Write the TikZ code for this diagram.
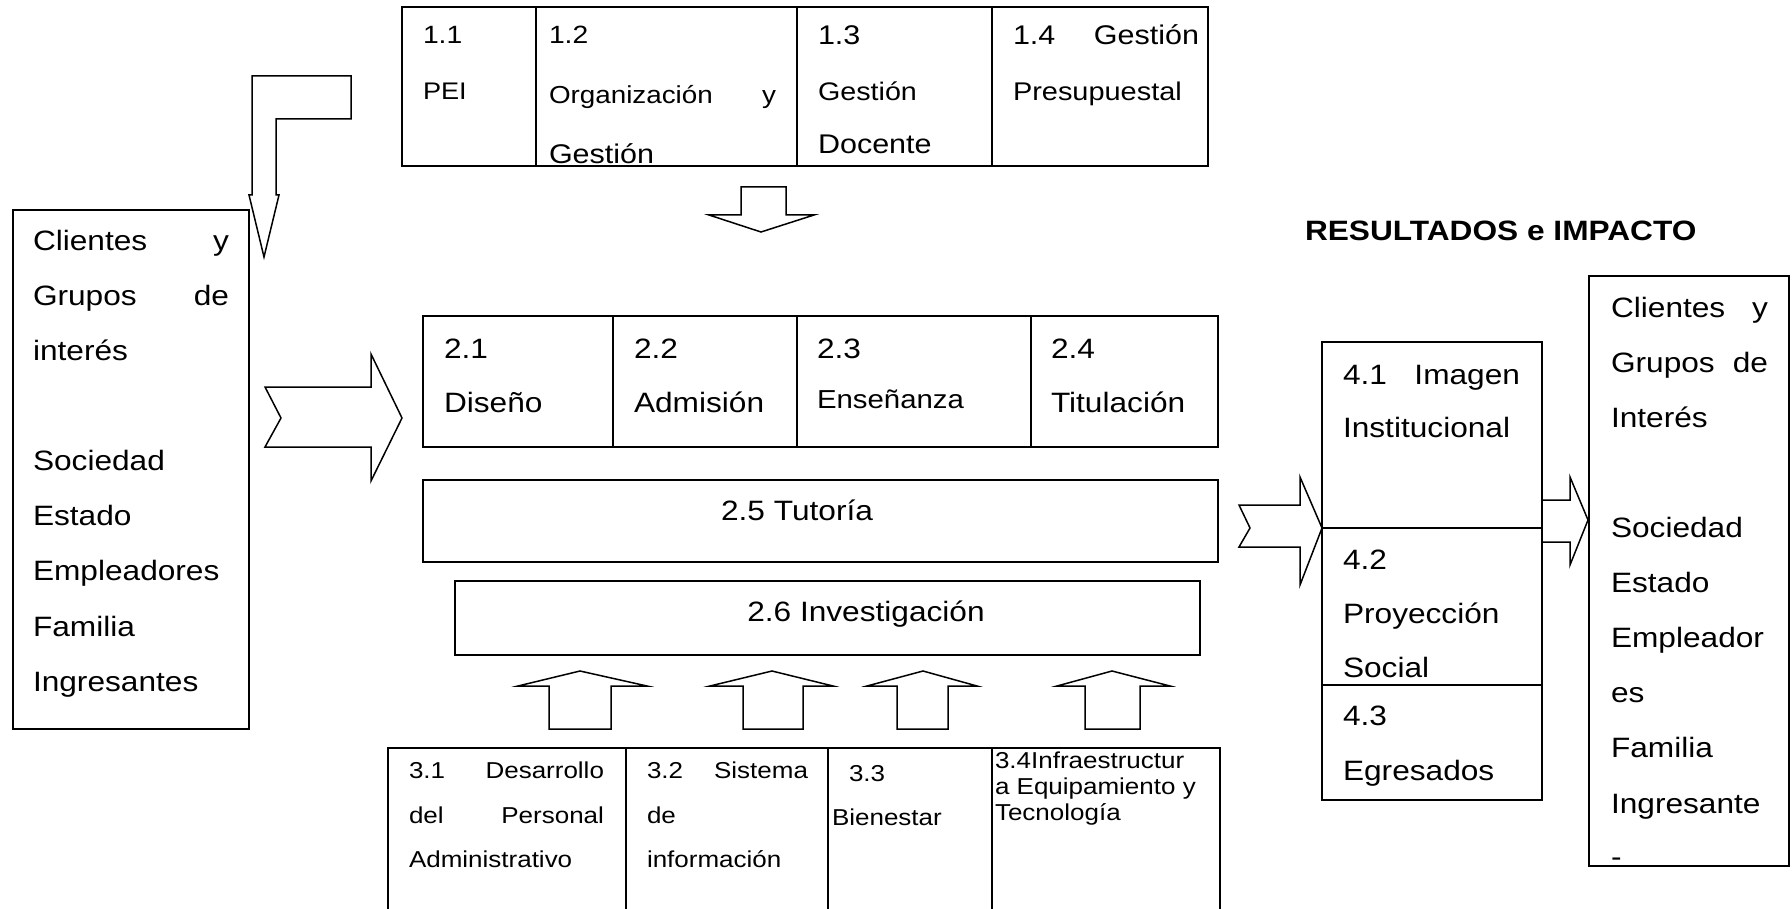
\documentclass[tikz,border=0pt]{standalone}
\usepackage{fontspec}
\setmainfont{Liberation Sans}[FakeStretch=1.13]
\newcommand\fsz[1]{\fontsize{#1}{#1}\selectfont}
\tikzset{
  boxline/.style={draw=black,line width=1pt},
  arrline/.style={draw=black,line width=0.75pt,line join=miter},
  t/.style={inner sep=0pt,outer sep=0pt,anchor=base west,font=\fsz{14}},
  tc/.style={t,anchor=base},
}
\begin{document}
\begin{tikzpicture}[x=0.5pt,y=-0.5pt]
\useasboundingbox[fill=white] (0,0) rectangle (1792,909);

% ---------- top box 1.x ----------
\draw[boxline] (402,7) rectangle (1208,166);
\draw[boxline] (536,7) -- (536,166) (797,7) -- (797,166) (992,7) -- (992,166);
\begin{scope}
\clip (402,7) rectangle (1208,166);
\node[t,font=\fsz{12.5}] (t11a) at (423,44) {1.1};
\node[t,font=\fsz{12}] (t11b) at (423,100) {PEI};
\node[t,font=\fsz{12.5}] (t12a) at (549,44) {1.2};
\node[t,font=\fsz{12.3}] (t12b) at (549,104) {\makebox[113.5pt][s]{Organización y}};
\node[t,font=\fsz{13.5}] (t12c) at (549,164) {Gestión};
\node[t,font=\fsz{13.5}] (t13a) at (818,45) {1.3};
\node[t,font=\fsz{12.7}] (t13b) at (818,101) {Gestión};
\node[t,font=\fsz{13.5}] (t13c) at (818,154) {Docente};
\node[t,font=\fsz{13.5}] (t14a) at (1013,45) {\makebox[93pt][s]{1.4 Gestión}};
\node[t,font=\fsz{12.8}] (t14b) at (1013,101) {Presupuestal};
\end{scope}

% bent arrow (top left)
\draw[arrline] (252,76) -- (351,76) -- (351,119) -- (276,119) -- (276,195)
  -- (279,195) -- (264,257) -- (249,195) -- (252,195) -- cycle;

% down arrow under top box
\draw[arrline] (741,187) -- (786,187) -- (786,215) -- (814,215) -- (761,232)
  -- (709,215) -- (741,215) -- cycle;

% ---------- left box ----------
\draw[boxline] (13,210) rectangle (249,729);
\node[t] (la) at (33,250) {\makebox[98pt][s]{Clientes y}};
\node[t] (lb) at (33,305) {\makebox[98pt][s]{Grupos de}};
\node[t] (lc) at (33,360) {interés};
\node[t] (ld) at (33,470) {Sociedad};
\node[t] (le) at (33,525) {Estado};
\node[t] (lf) at (33,580) {Empleadores};
\node[t] (lg) at (33,636) {Familia};
\node[t] (lh) at (33,691) {Ingresantes};

% chevron arrow left -> processes
\draw[arrline] (265,387) -- (371,387) -- (371,354) -- (402,418) -- (371,481)
  -- (371,447) -- (265,447) -- (281,418) -- cycle;

% ---------- 2.x boxes ----------
\draw[boxline] (423,316) rectangle (1218,447);
\draw[boxline] (613,316) -- (613,447) (797,316) -- (797,447) (1031,316) -- (1031,447);
\node[t] (t21a) at (444,358) {2.1};
\node[t] (t21b) at (444,412) {Diseño};
\node[t] (t22a) at (634,358) {2.2};
\node[t] (t22b) at (634,412) {Admisión};
\node[t] (t23a) at (817,358) {2.3};
\node[t,font=\fsz{13}] (t23b) at (817,408) {Enseñanza};
\node[t] (t24a) at (1051,358) {2.4};
\node[t] (t24b) at (1051,412) {Titulación};

\draw[boxline] (423,480) rectangle (1218,562);
\node[tc] (t25) at (797,520) {2.5 Tutoría};

\draw[boxline] (455,581) rectangle (1200,655);
\node[tc] (t26) at (866,621) {2.6 Investigación};

% up arrows
\draw[arrline] (549,729) -- (549,686) -- (518,686) -- (580,671) -- (647,686) -- (611,686) -- (611,729) -- cycle;
\draw[arrline] (743,729) -- (743,686) -- (710,686) -- (772,671) -- (833,686) -- (803,686) -- (803,729) -- cycle;
\draw[arrline] (897,729) -- (897,686) -- (867,686) -- (923,671) -- (977,686) -- (948,686) -- (948,729) -- cycle;
\draw[arrline] (1085,729) -- (1085,686) -- (1057,686) -- (1112,671) -- (1170,686) -- (1140,686) -- (1140,729) -- cycle;

% ---------- 3.x boxes ----------
\draw[boxline] (388,748) rectangle (1220,915);
\draw[boxline] (626,748) -- (626,915) (828,748) -- (828,915) (992,748) -- (992,915);
\node[t,font=\fsz{11.5}] (t31a) at (409,778) {\makebox[97.5pt][s]{3.1 Desarrollo}};
\node[t,font=\fsz{11.5}] (t31b) at (409,823) {\makebox[97.5pt][s]{del Personal}};
\node[t,font=\fsz{11.5}] (t31c) at (409,867) {Administrativo};
\node[t,font=\fsz{11.5}] (t32a) at (647,778) {\makebox[80.5pt][s]{3.2 Sistema}};
\node[t,font=\fsz{11.5}] (t32b) at (647,823) {de};
\node[t,font=\fsz{11.5}] (t32c) at (647,867) {información};
\node[t,font=\fsz{11.5}] (t33a) at (849,781) {3.3};
\node[t,font=\fsz{11.5}] (t33b) at (832,825) {Bienestar};
\node[t,font=\fsz{11.5}] (t34a) at (995,768) {3.4Infraestructur};
\node[t,font=\fsz{11.5}] (t34b) at (995,794) {a Equipamiento y};
\node[t,font=\fsz{11.5}] (t34c) at (995,820) {Tecnología};

% ---------- results ----------
\node[t,font=\fsz{14}\bfseries] (res) at (1305,241) {RESULTADOS e IMPACTO};

% chevron arrow -> 4.x
\draw[arrline] (1239,505) -- (1300,505) -- (1300,477) -- (1322,528) -- (1300,585)
  -- (1300,547) -- (1239,547) -- (1250,528) -- cycle;

% 4.x box
\draw[boxline] (1322,342) rectangle (1542,800);
\draw[boxline] (1322,528) -- (1542,528) (1322,685) -- (1542,685);
\node[t] (t41a) at (1343,384) {\makebox[88.5pt][s]{4.1 Imagen}};
\node[t] (t41b) at (1343,437) {Institucional};
\node[t] (t42a) at (1343,569) {4.2};
\node[t] (t42b) at (1343,623) {Proyección};
\node[t] (t42c) at (1343,677) {Social};
\node[t] (t43a) at (1343,725) {4.3};
\node[t] (t43b) at (1343,780) {Egresados};

% arrow 4.x -> right box
\draw[arrline] (1542,500) -- (1570,500) -- (1570,477) -- (1588,520) -- (1570,565)
  -- (1570,542) -- (1542,542);

% right box
\draw[boxline] (1589,276) rectangle (1789,866);
\begin{scope}
\clip (1589,276) rectangle (1789,866);
\node[t] (ra) at (1611,317) {\makebox[78.5pt][s]{Clientes y}};
\node[t] (rb) at (1611,372) {\makebox[78.5pt][s]{Grupos de}};
\node[t] (rc) at (1611,427) {Interés};
\node[t] (rd) at (1611,537) {Sociedad};
\node[t] (re) at (1611,592) {Estado};
\node[t] (rf) at (1611,647) {Empleador};
\node[t] (rg) at (1611,702) {es};
\node[t] (rh) at (1611,757) {Familia};
\node[t] (ri) at (1611,813) {Ingresante};
\node[t] (rj) at (1611,866) {-};
\end{scope}
\end{tikzpicture}
\end{document}
